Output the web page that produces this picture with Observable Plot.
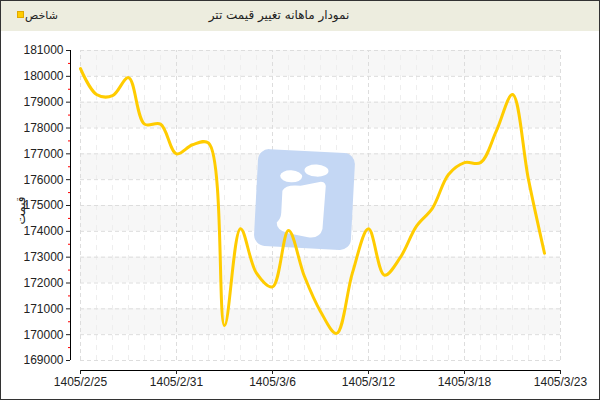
<!DOCTYPE html>
<html>
<head>
<meta charset="utf-8">
<script src="https://cdn.jsdelivr.net/npm/d3@7"></script>
<script src="https://cdn.jsdelivr.net/npm/@observablehq/plot@0.6"></script>
<style>
  body { margin: 0; background: #fff; }
  #box { position: relative; width: 600px; height: 400px; box-sizing: border-box; border: 1px solid #333; overflow: hidden; }
  #head { position: relative; height: 30px; background: #ededdf; font-family: "DejaVu Sans", sans-serif; font-size: 11px; color: #222; }
  #title { position: absolute; top: 7px; left: 0; width: 556px; text-align: center; font-size: 12px; }
  #legend { position: absolute; top: 8px; left: 16px; }
  #legend span.sw { display: inline-block; width: 5px; height: 5px; background: #ffcc00; border: 1px solid #e0a800; margin-right: 1px; vertical-align: 1px; }
  #chart svg { display: block; }
</style>
</head>
<body>
<div id="box">
  <div id="head">
    <div id="legend"><span class="sw"></span><span dir="rtl">شاخص</span></div>
    <div id="title" dir="rtl">نمودار ماهانه تغییر قیمت تتر</div>
  </div>
  <div id="chart"></div>
</div>
<script>
// قیمت روزانه
const prices = [180300, 179300, 179250, 179950, 178150, 178150, 177000, 177350, 177420, 170350,
                174100, 172380, 171850, 174030, 172250, 170900, 170050, 172400, 174100, 172300,
                173000, 174200, 174900, 176200, 176660, 176660, 177900, 179300, 176000, 173150]

const xTickPos = [0, 6, 12, 18, 24, 30]
const xLabels = ['1405/2/25', '1405/2/31', '1405/3/6', '1405/3/12', '1405/3/18', '1405/3/23']
const yTicks = d3.range(169000, 181001, 1000)
const yMinor = d3.range(169500, 181000, 1000)
const bandStarts = [180000, 178000, 176000, 174000, 172000, 170000]

const xMin = xTickPos[0], xMax = xTickPos[xTickPos.length - 1]
const yMin = yTicks[0], yMax = yTicks[yTicks.length - 1]
const minorDays = d3.range(xMin, xMax + 1).filter(d => !xTickPos.includes(d))

// لوگوی پس زمینه
const watermark = () => {
  const g = d3.create('svg:g').attr('transform', 'rotate(3 303 168)')
  g.append('rect').attr('x', 255).attr('y', 120).attr('width', 97).attr('height', 97)
    .attr('rx', 11).attr('fill', '#c4d7f4')
  g.append('ellipse').attr('cx', 289).attr('cy', 146).attr('rx', 11).attr('ry', 6).attr('fill', '#fff')
  g.append('ellipse').attr('cx', 314).attr('cy', 139).attr('rx', 12).attr('ry', 6).attr('fill', '#fff')
  g.append('path').attr('fill', '#fff')
    .attr('d', 'M 281 161 Q 284 154 299 155 L 319 150 Q 325 150 324 157 L 323 197 Q 321 207 309 206 L 289 203 Q 277 201 277 193 Q 281 189 281 183 Z')
  return g.node()
}

let chart = Plot.plot({
  width: 598,
  height: 369,
  marginLeft: 69,
  marginRight: 39,
  marginTop: 19,
  marginBottom: 30,
  insetLeft: 10,
  insetBottom: 10,
  x: { domain: [xMin, xMax] },
  y: { domain: [yMin, yMax] },
  style: { fontFamily: 'Liberation Sans, DejaVu Sans, sans-serif', fontSize: '11px', color: '#222', overflow: 'visible' },
  marks: [
    Plot.rect(bandStarts, { x1: xMin, x2: xMax, y1: d => d, y2: d => d + 1000, fill: '#f7f7f7' }),
    Plot.ruleX(minorDays, { y1: yMin, y2: yMax, stroke: '#eee', strokeDasharray: '5,5' }),
    Plot.ruleX(xTickPos, { y1: yMin, y2: yMax, stroke: '#ddd', strokeDasharray: '4,3' }),
    Plot.ruleY(yTicks, { x1: xMin, x2: xMax, stroke: '#ddd', strokeDasharray: '4,3' }),
    watermark,
    Plot.line(prices, { x: (d, i) => i, y: d => d, stroke: '#ffcc00', strokeWidth: 3, curve: 'catmull-rom' }),

    // محورها
    Plot.ruleX([xMin], { y1: yMin, y2: yMax, dx: -10, stroke: '#000' }),
    Plot.ruleY([yMin], { x1: xMin, x2: xMax, dy: 10, stroke: '#000' }),
    Plot.axisY(yMinor, { tickSize: 2, stroke: 'red', tickFormat: () => '', label: null }),
    Plot.axisY(yTicks, {
      tickSize: 4, tickPadding: 3, tickFormat: d3.format('d'),
      label: 'قیمت', labelAnchor: 'center', labelArrow: 'none', labelOffset: 54, fontSize: 12
    }),
    Plot.axisX(xTickPos, {
      tickSize: 4, tickPadding: 3, label: null, fontSize: 12,
      tickFormat: d => xLabels[xTickPos.indexOf(d)]
    })
  ]
})

d3.select('#chart').append(() => chart)
</script>
</body>
</html>
